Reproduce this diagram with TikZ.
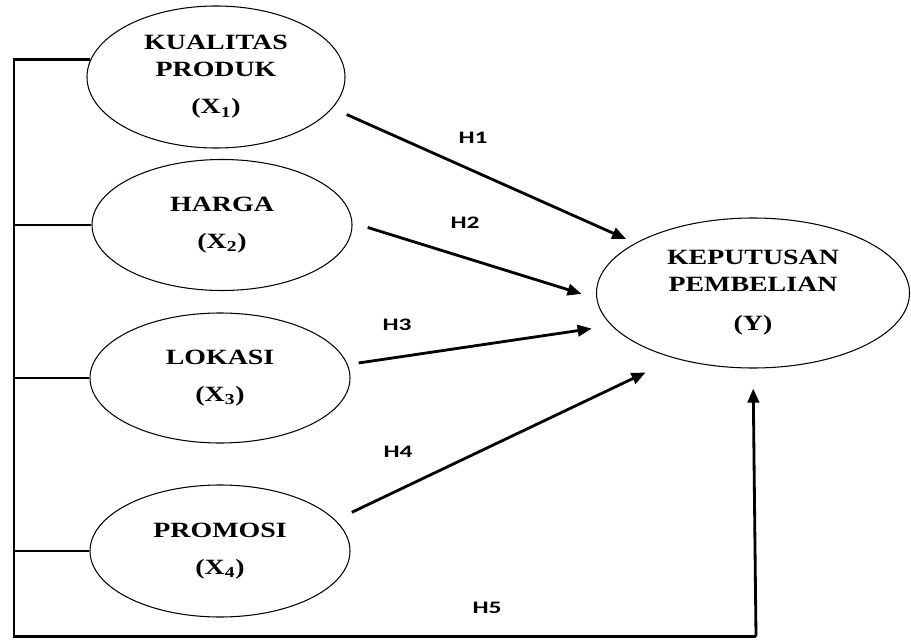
\documentclass[tikz,border=0pt]{standalone}
\usepackage{fontspec}
\usetikzlibrary{arrows.meta,shapes.geometric}

\newfontfamily\varfont[FakeStretch=1.28]{Liberation Serif}
\newfontfamily\hypfont[FakeStretch=1.45]{Carlito}

\begin{document}
\begin{tikzpicture}[
    variabel/.style={
        draw,
        ellipse,
        line width=0.6pt,
        inner sep=0pt,
        align=center,
        font=\varfont\bfseries\fontsize{12.4}{15}\selectfont
    },
    hubung/.style={line width=1.6pt},
    panah/.style={
        line width=1.6pt,
        -{Triangle[length=8pt,width=6.5pt]}
    },
    hipotesis/.style={font=\hypfont\bfseries\fontsize{10}{12}\selectfont}
]

    \useasboundingbox (0,0) rectangle (18.22,12.78);

    %------------------------------------------------
    % Independent variables
    %------------------------------------------------

    \node[variabel, minimum width=5.16cm, minimum height=2.84cm]
        (x1) at (4.32,11.24)
        {KUALITAS\\PRODUK\\[6.5pt](X\textsubscript{1})};

    \node[variabel, minimum width=5.2cm, minimum height=2.62cm]
        (x2) at (4.44,8.28)
        {HARGA\\[6.5pt](X\textsubscript{2})};

    \node[variabel, minimum width=5.2cm, minimum height=2.6cm]
        (x3) at (4.40,5.22)
        {LOKASI\\[6.5pt](X\textsubscript{3})};

    \node[variabel, minimum width=5.2cm, minimum height=2.64cm]
        (x4) at (4.40,1.76)
        {PROMOSI\\[6.5pt](X\textsubscript{4})};

    %------------------------------------------------
    % Dependent variable
    %------------------------------------------------

    \node[variabel, minimum width=6.26cm, minimum height=3.0cm]
        (y) at (15.06,6.92)
        {KEPUTUSAN\\PEMBELIAN\\[7.5pt](Y)};

    %------------------------------------------------
    % Partial paths
    %------------------------------------------------

    \draw[panah, shorten <=0.31cm, shorten >=0.2cm]
        (x1.-15) -- (y.157);

    \draw[panah, shorten <=0.32cm, shorten >=0.31cm]
        (x2.1) -- (y.182);

    \draw[panah, shorten <=0.22cm, shorten >=0.4cm]
        (x3.6) -- (y.193);

    \draw[panah, shorten <=0.36cm, shorten >=0.65cm]
        (x4.15) -- (y.220);

    %------------------------------------------------
    % Simultaneous path
    %------------------------------------------------

    \coordinate (kiri) at (0.28,0.05);
    \coordinate (sudut) at (15.12,0.05);

    \draw[hubung]
        (x1.172) -- (x1.172 -| kiri) -- (kiri) -- (sudut);

    \draw[hubung] (x2.west) -- (x2.west -| kiri);
    \draw[hubung] (x3.west) -- (x3.west -| kiri);
    \draw[hubung] (x4.west) -- (x4.west -| kiri);

    \draw[panah, shorten >=0.4cm]
        (sudut) -- (y.south);

    %------------------------------------------------
    % Hypothesis labels
    %------------------------------------------------

    \node[hipotesis] (h1) at (9.46,10.02) {H1};
    \node[hipotesis] (h2) at (9.30,8.32) {H2};
    \node[hipotesis] (h3) at (7.94,6.28) {H3};
    \node[hipotesis] (h4) at (7.96,3.74) {H4};
    \node[hipotesis] (h5) at (9.74,0.62) {H5};

\end{tikzpicture}
\end{document}
